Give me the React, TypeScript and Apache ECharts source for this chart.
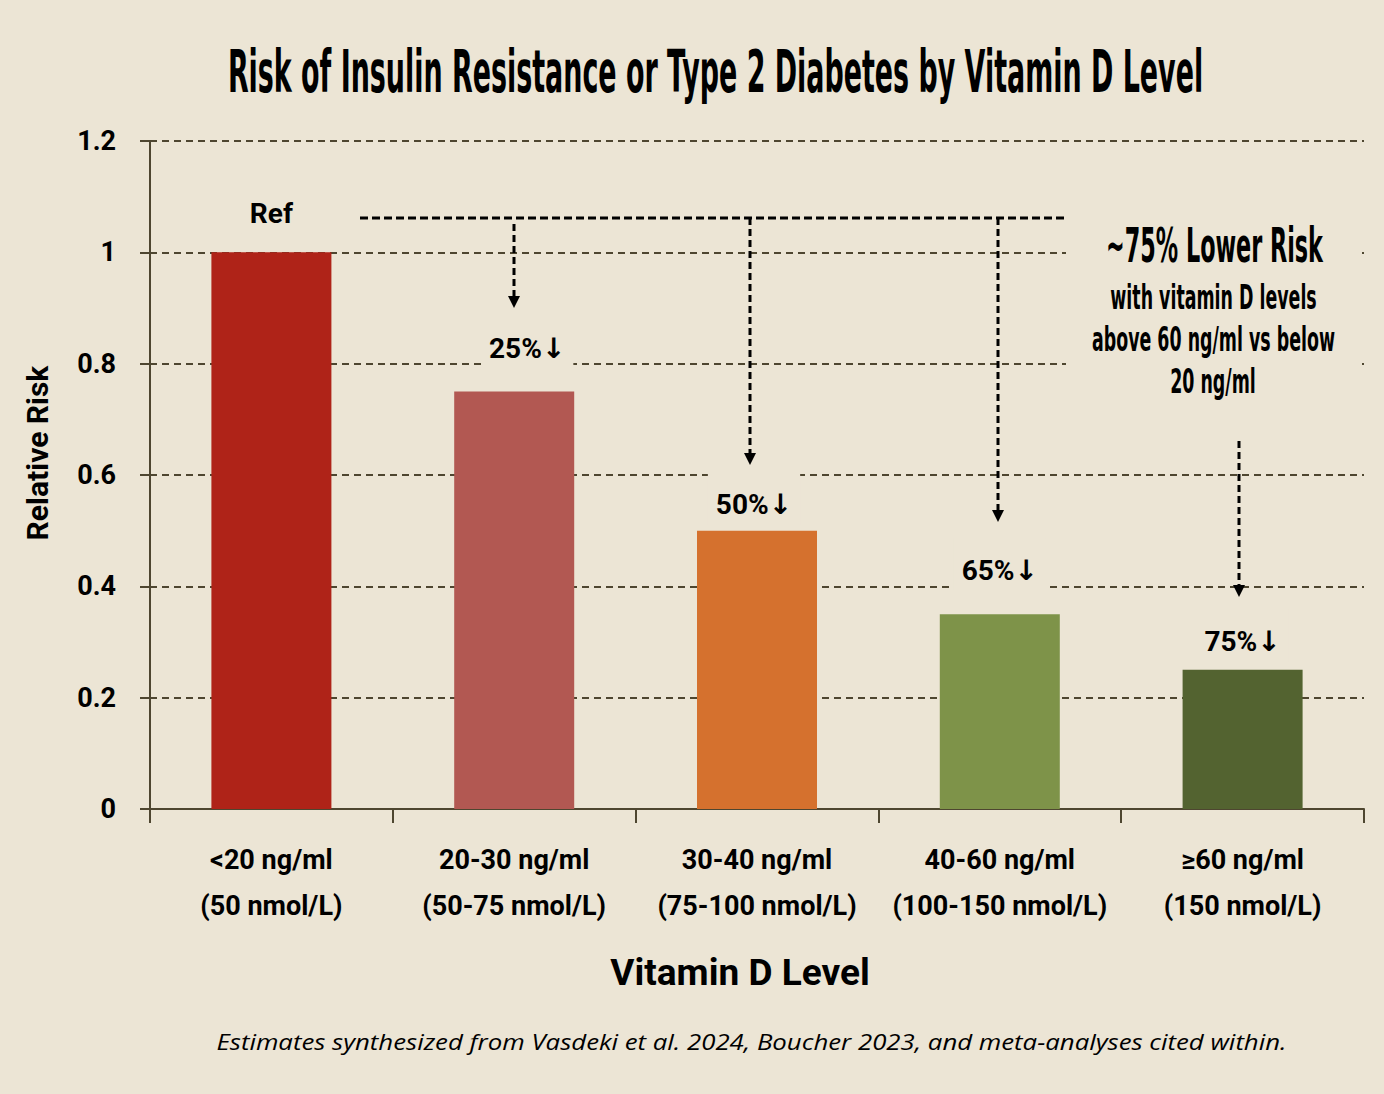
import React, { useEffect, useRef } from 'react';
import * as echarts from 'echarts';

// ---- data ----
const categories = [
  '<20 ng/ml\n(50 nmol/L)',
  '20-30 ng/ml\n(50-75 nmol/L)',
  '30-40 ng/ml\n(75-100 nmol/L)',
  '40-60 ng/ml\n(100-150 nmol/L)',
  '≥60 ng/ml\n(150 nmol/L)',
];
const relativeRisk = [1.0, 0.75, 0.5, 0.35, 0.25];
const barLabels = ['Ref', '25%↓', '50%↓', '65%↓', '75%↓'];
const yMin = 0;
const yMax = 1.2;
const yStep = 0.2;

const titleText = 'Risk of Insulin Resistance or Type 2 Diabetes by Vitamin D Level';
const yAxisName = 'Relative Risk';
const xAxisName = 'Vitamin D Level';
const calloutHead = '~75% Lower Risk';
const calloutLines = ['with vitamin D levels', 'above 60 ng/ml vs below', '20 ng/ml'];
const footnote = 'Estimates synthesized from Vasdeki et al. 2024, Boucher 2023, and meta-analyses cited within.';

// ---- styles ----
const barColors = ['#AF2318', '#B25852', '#D5712E', '#7E9349', '#536330'];
const labelGap = [19, 23, 6, 24, 8];
const labelShiftX = [0, 13, -3, 0, 0];
const BG = '#ECE5D5';
const AXIS = '#4E4630';
const AXFONT = "Roboto, 'DejaVu Sans', sans-serif";
const GFONT = "'DejaVu Sans', sans-serif";
const ITAL = "'Open Sans', 'Noto Sans', sans-serif";

function measure(text: string, font: string) {
  const ctx = document.createElement('canvas').getContext('2d') as CanvasRenderingContext2D;
  ctx.font = font;
  return ctx.measureText(text).width || 1;
}

function fitScale(text: string, size: number, weight: string, family: string, fontStyle: string, width: number) {
  return width / measure(text, `${fontStyle} ${weight} ${size}px ${family}`);
}

function textEl(text: string, cx: number, cy: number, size: number, weight: string, family: string, fontStyle: string, scaleX: number) {
  return {
    type: 'text',
    x: cx,
    y: cy,
    scaleX,
    scaleY: 1,
    z: 20,
    style: {
      text,
      fill: '#000',
      fontSize: size,
      fontWeight: weight,
      fontFamily: family,
      fontStyle,
      align: 'center',
      verticalAlign: 'middle',
      textAlign: 'center',
      textVerticalAlign: 'middle',
    },
  };
}

export default function App() {
  const ref = useRef<HTMLDivElement>(null);

  useEffect(() => {
    if (!ref.current) return;
    const chart = echarts.init(ref.current, undefined, { renderer: 'svg' });

    const titleSize = 58;
    const headSize = 48;
    const lineSize = 34;
    const footSize = 21;
    const bodyScale = fitScale(calloutLines[1], lineSize, 'bold', GFONT, 'normal', 243);

    const arrows = [
      { x: 514, y1: 224, tip: 308 },
      { x: 750, y1: 218, tip: 465 },
      { x: 998, y1: 218, tip: 522 },
      { x: 1239, y1: 441, tip: 597 },
    ];
    const dashStyle = { stroke: '#000', lineWidth: 3, lineDash: [7, 4] };

    const graphic: any[] = [
      textEl(titleText, 715.5, 72, titleSize, 'bold', GFONT, 'normal',
        fitScale(titleText, titleSize, 'bold', GFONT, 'normal', 975)),
      {
        type: 'rect', z: 15,
        shape: { x: 1066, y: 200, width: 296, height: 215 },
        style: { fill: BG },
      },
      textEl(calloutHead, 1214.5, 245, headSize, 'bold', GFONT, 'normal',
        fitScale(calloutHead, headSize, 'bold', GFONT, 'normal', 217)),
      textEl(calloutLines[0], 1213.5, 297, lineSize, 'bold', GFONT, 'normal', bodyScale),
      textEl(calloutLines[1], 1213.5, 339, lineSize, 'bold', GFONT, 'normal', bodyScale),
      textEl(calloutLines[2], 1213, 381, lineSize, 'bold', GFONT, 'normal', bodyScale),
      {
        type: 'line', z: 20,
        shape: { x1: 360, y1: 218, x2: 1066, y2: 218 },
        style: { stroke: '#000', lineWidth: 3, lineDash: [8, 4] },
      },
      textEl(footnote, 751.5, 1042, footSize, 'normal', ITAL, 'italic',
        fitScale(footnote, footSize, 'normal', ITAL, 'italic', 1071)),
    ];
    arrows.forEach((a) => {
      graphic.push({
        type: 'line', z: 20,
        shape: { x1: a.x, y1: a.y1, x2: a.x, y2: a.tip - 9 },
        style: dashStyle,
      });
      graphic.push({
        type: 'polygon', z: 20,
        shape: { points: [[a.x - 6, a.tip - 12], [a.x + 6, a.tip - 12], [a.x, a.tip]] },
        style: { fill: '#000' },
      });
    });

    const option: any = {
      animation: false,
      backgroundColor: BG,
      grid: { left: 150, right: 20, top: 141, bottom: 285, containLabel: false },
      xAxis: {
        type: 'category',
        data: categories,
        name: xAxisName,
        nameLocation: 'middle',
        nameGap: 145,
        nameTextStyle: {
          fontFamily: AXFONT, fontWeight: 'bold', fontSize: 37, color: '#000',
          padding: [0, 34, 0, 0],
        },
        axisLine: { show: true, lineStyle: { color: AXIS, width: 2 } },
        axisTick: { show: true, length: 14, alignWithLabel: false, interval: 0, lineStyle: { color: AXIS, width: 2 } },
        axisLabel: {
          interval: 0,
          margin: 28,
          fontFamily: AXFONT,
          fontWeight: 'bold',
          fontSize: 27,
          lineHeight: 46,
          color: '#000',
        },
        splitLine: { show: false },
      },
      yAxis: {
        type: 'value',
        min: yMin,
        max: yMax,
        interval: yStep,
        name: yAxisName,
        nameLocation: 'middle',
        nameRotate: 90,
        nameGap: 98,
        nameTextStyle: {
          fontFamily: AXFONT, fontWeight: 'bold', fontSize: 30, color: '#000',
          padding: [0, 0, 0, 44],
        },
        axisLine: { show: true, lineStyle: { color: AXIS, width: 2 } },
        axisTick: { show: true, length: 10, lineStyle: { color: AXIS, width: 2 } },
        axisLabel: {
          margin: 34,
          fontFamily: AXFONT,
          fontWeight: 'bold',
          fontSize: 27,
          color: '#000',
        },
        splitLine: { show: true, lineStyle: { color: AXIS, width: 2, type: [7, 5] } },
      },
      series: [
        {
          type: 'bar',
          barWidth: 120,
          z: 5,
          data: relativeRisk.map((v, i) => ({
            value: v,
            itemStyle: { color: barColors[i] },
            label: {
              show: true,
              position: 'top',
              distance: labelGap[i],
              offset: [labelShiftX[i], 0],
              formatter: barLabels[i],
              fontFamily: AXFONT,
              fontWeight: 'bold',
              fontSize: 28,
              lineHeight: 32,
              color: '#000',
              backgroundColor: BG,
              padding: [16, 8, 4, 8],
            },
          })),
        },
      ],
      graphic,
    };

    chart.setOption(option);
    return () => chart.dispose();
  }, []);

  return (
    <div
      ref={ref}
      style={{ position: 'absolute', left: 0, top: 0, width: 1384, height: 1094 }}
    />
  );
}
